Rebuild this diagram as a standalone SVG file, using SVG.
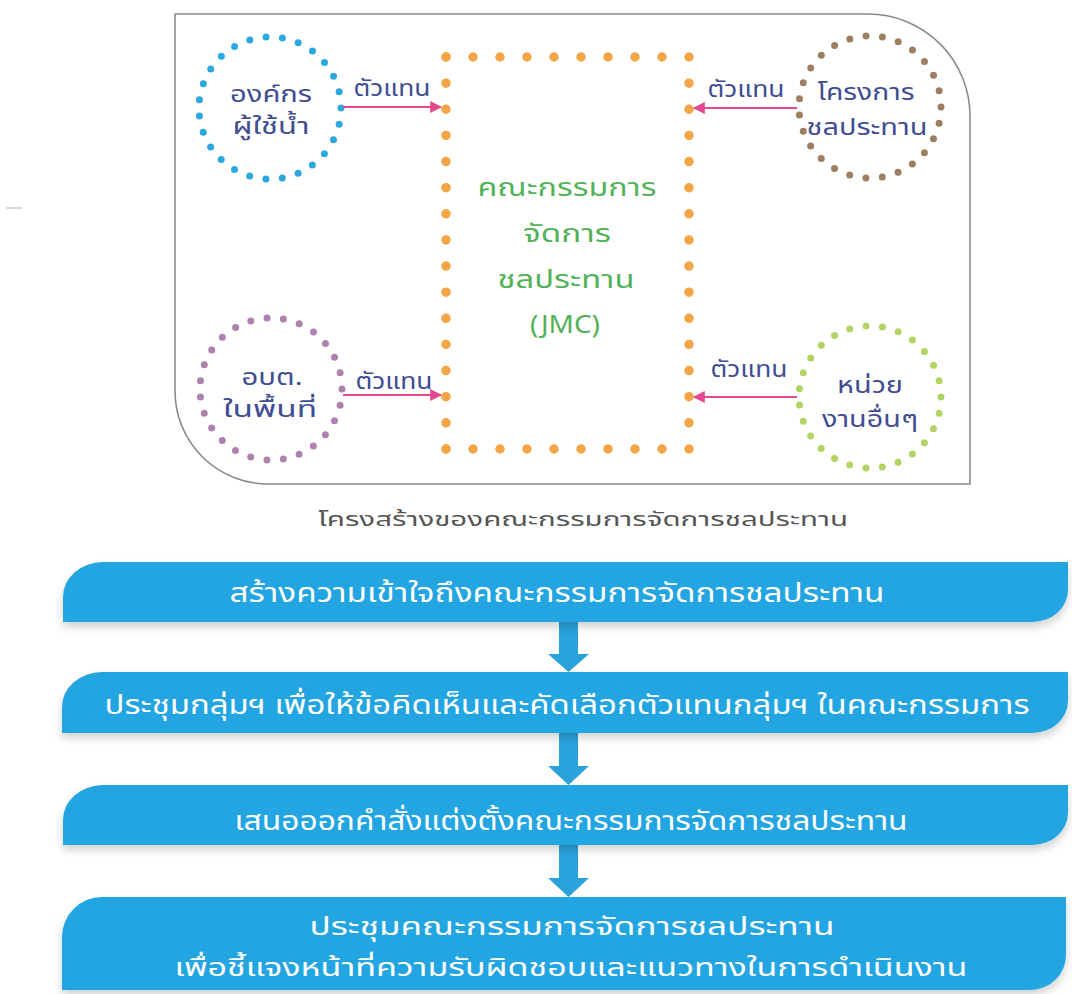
<svg xmlns="http://www.w3.org/2000/svg" width="1072" height="994" viewBox="0 0 1072 994">
<defs>
<style>
.th{font-family:"Noto Sans Thai","Noto Sans","DejaVu Sans",sans-serif;}
.ct{font-size:23px;fill:#3F4D92;text-anchor:middle;}
.rep{font-size:23px;fill:#3F4D92;text-anchor:middle;}
.jmc{font-size:25px;fill:#52B257;text-anchor:middle;}
.bt{font-size:26px;fill:#FFFFFF;text-anchor:middle;}
.bt4{font-size:24px;fill:#FFFFFF;text-anchor:middle;}
.cap{font-size:20px;fill:#555555;text-anchor:middle;}
.ring{fill:none;stroke-width:7;stroke-linecap:round;stroke-dasharray:0 16.5;}
.od{fill:none;stroke:#F4A545;stroke-width:9.5;stroke-linecap:round;}
.link{stroke:#E4488E;stroke-width:2.2;fill:none;}
.box{fill:#22A5E0;filter:url(#sh);}
.down{fill:#2AA2DC;}
</style>
<marker id="ah2" viewBox="0 0 10 10" refX="9" refY="5" markerWidth="16" markerHeight="12" markerUnits="userSpaceOnUse" orient="auto">
<path d="M0,0 L10,5 L0,10 Z" fill="#E4488E"/>
</marker>
<filter id="sh" x="-5%" y="-20%" width="110%" height="150%">
<feDropShadow dx="0" dy="5" stdDeviation="4" flood-color="#000" flood-opacity="0.18"/>
</filter>
</defs>
<rect width="1072" height="994" fill="#FFFFFF"/>
<line x1="6" y1="208" x2="22" y2="208" stroke="#ccc" stroke-width="1.5"/>

<g id="frame">
<path d="M175,14 H868 A102,102 0 0 1 970,116 V484 H268 A93,93 0 0 1 175,391 Z" fill="none" stroke="#8A8A8A" stroke-width="1.6"/>
</g>

<g id="jmc">
<line class="od" x1="446" y1="57" x2="689" y2="57" stroke-dasharray="0 27"/>
<line class="od" x1="446" y1="449" x2="689" y2="449" stroke-dasharray="0 27"/>
<line class="od" x1="446" y1="57" x2="446" y2="449" stroke-dasharray="0 26.133"/>
<line class="od" x1="689" y1="57" x2="689" y2="449" stroke-dasharray="0 26.133"/>
<text class="th jmc" x="567" y="196" textLength="179" lengthAdjust="spacingAndGlyphs">คณะกรรมการ</text>
<text class="th jmc" x="567" y="242" textLength="88" lengthAdjust="spacingAndGlyphs">จัดการ</text>
<text class="th jmc" x="566" y="288" textLength="137" lengthAdjust="spacingAndGlyphs">ชลประทาน</text>
<text class="th jmc" x="565" y="333" textLength="70" lengthAdjust="spacingAndGlyphs">(JMC)</text>
</g>

<g id="org">
<circle class="ring" cx="270" cy="108" r="71" stroke="#2BA9DF"/>
<text class="th ct" x="271" y="102" textLength="82" lengthAdjust="spacingAndGlyphs">องค์กร</text>
<text class="th ct" x="271" y="134" textLength="77" lengthAdjust="spacingAndGlyphs">ผู้ใช้น้ำ</text>
</g>

<g id="project">
<circle class="ring" cx="870" cy="107" r="71" stroke="#9C7E60"/>
<text class="th ct" x="866" y="100" textLength="97" lengthAdjust="spacingAndGlyphs">โครงการ</text>
<text class="th ct" x="867" y="135" textLength="121" lengthAdjust="spacingAndGlyphs">ชลประทาน</text>
</g>

<g id="sao">
<circle class="ring" cx="271" cy="389" r="71" stroke="#AE82AE"/>
<text class="th ct" x="272" y="385" textLength="61" lengthAdjust="spacingAndGlyphs">อบต.</text>
<text class="th ct" x="270" y="417" textLength="94" lengthAdjust="spacingAndGlyphs">ในพื้นที่</text>
</g>

<g id="other">
<circle class="ring" cx="870" cy="397" r="71" stroke="#B3D363"/>
<text class="th ct" x="870" y="393" textLength="66" lengthAdjust="spacingAndGlyphs">หน่วย</text>
<text class="th ct" x="870" y="427" textLength="96" lengthAdjust="spacingAndGlyphs">งานอื่นๆ</text>
</g>

<g id="connectors">
<line class="link" x1="343" y1="107" x2="441" y2="107" marker-end="url(#ah2)"/>
<line class="link" x1="797" y1="108" x2="694" y2="108" marker-end="url(#ah2)"/>
<line class="link" x1="343" y1="395" x2="441" y2="395" marker-end="url(#ah2)"/>
<line class="link" x1="797" y1="397" x2="694" y2="397" marker-end="url(#ah2)"/>
<text class="th rep" x="392" y="96" textLength="77" lengthAdjust="spacingAndGlyphs">ตัวแทน</text>
<text class="th rep" x="746" y="97" textLength="77" lengthAdjust="spacingAndGlyphs">ตัวแทน</text>
<text class="th rep" x="394" y="389" textLength="77" lengthAdjust="spacingAndGlyphs">ตัวแทน</text>
<text class="th rep" x="749" y="377" textLength="77" lengthAdjust="spacingAndGlyphs">ตัวแทน</text>
<path class="down" d="M559,622 H578 V654 H589 L568.5,672 L548,654 H559 Z"/>
<path class="down" d="M559,733 H578 V766 H589 L568.5,785 L548,766 H559 Z"/>
<path class="down" d="M559,845 H578 V878 H589 L568.5,897 L548,878 H559 Z"/>
</g>

<text class="th cap" x="583" y="526" textLength="530" lengthAdjust="spacingAndGlyphs">โครงสร้างของคณะกรรมการจัดการชลประทาน</text>

<g id="step1">
<path class="box" d="M63,622 V597 A40,35 0 0 1 103,562 H1068 V590 A36,32 0 0 1 1032,622 Z"/>
<text class="th bt" x="557" y="602" textLength="655" lengthAdjust="spacingAndGlyphs">สร้างความเข้าใจถึงคณะกรรมการจัดการชลประทาน</text>
</g>
<g id="step2">
<path class="box" d="M62,733 V707 A40,35 0 0 1 102,672 H1068 V701 A36,32 0 0 1 1032,733 Z"/>
<text class="th bt" x="567" y="714" textLength="925" lengthAdjust="spacingAndGlyphs">ประชุมกลุ่มฯ เพื่อให้ข้อคิดเห็นและคัดเลือกตัวแทนกลุ่มฯ ในคณะกรรมการ</text>
</g>
<g id="step3">
<path class="box" d="M63,845 V820 A40,35 0 0 1 103,785 H1068 V813 A36,32 0 0 1 1032,845 Z"/>
<text class="th bt" x="571" y="830" textLength="673" lengthAdjust="spacingAndGlyphs">เสนอออกคำสั่งแต่งตั้งคณะกรรมการจัดการชลประทาน</text>
</g>
<g id="step4">
<path class="box" d="M62,990 V937 A40,40 0 0 1 102,897 H1066 V955 A36,35 0 0 1 1030,990 Z"/>
<text class="th bt4" x="572" y="935" textLength="525" lengthAdjust="spacingAndGlyphs">ประชุมคณะกรรมการจัดการชลประทาน</text>
<text class="th bt4" x="571" y="976" textLength="793" lengthAdjust="spacingAndGlyphs">เพื่อชี้แจงหน้าที่ความรับผิดชอบและแนวทางในการดำเนินงาน</text>
</g>
</svg>
